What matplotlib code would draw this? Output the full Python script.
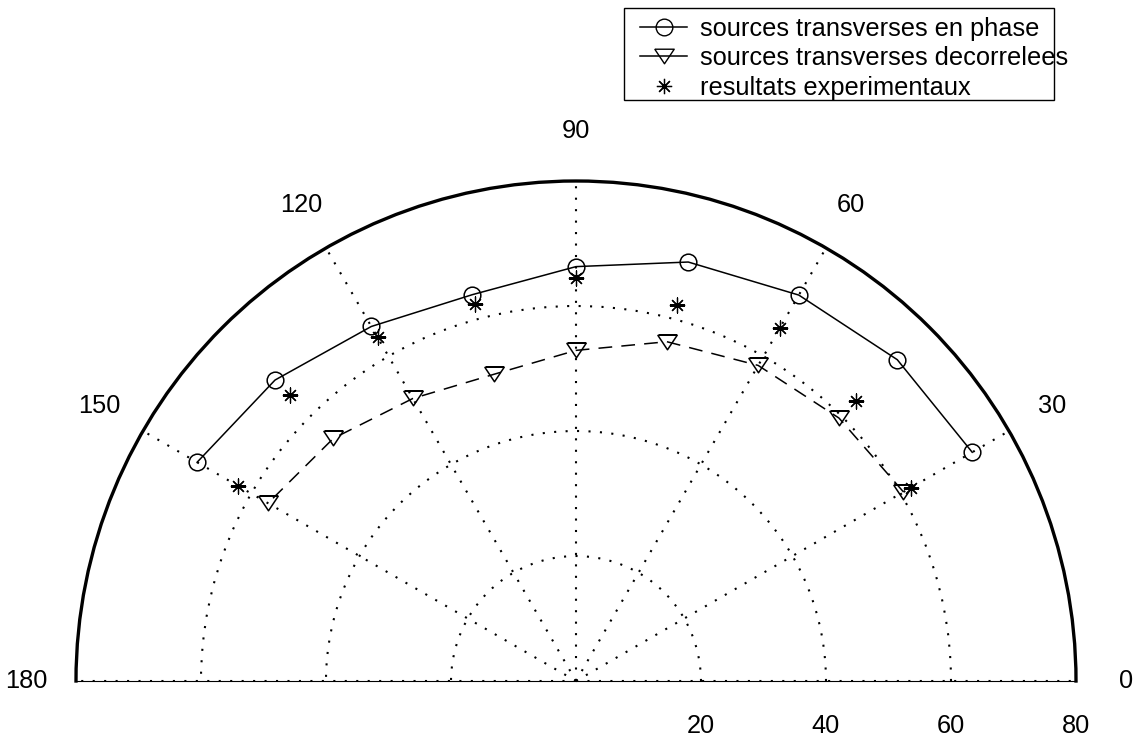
import numpy as np
import matplotlib
matplotlib.use("Agg")
import matplotlib.pyplot as plt
from matplotlib.lines import Line2D
from matplotlib.patches import Rectangle

# ---- data ----
angles_deg = [30, 45, 60, 75, 90, 105, 120, 135, 150]
en_phase = [73.2, 72.7, 71.3, 69.4, 66.3, 64.0, 65.5, 68.1, 70.0]
decorrelees = [60.5, 59.5, 58.3, 56.2, 52.9, 50.8, 52.2, 54.9, 56.9]
experimentaux = [61.9, 63.3, 65.2, 62.3, 64.4, 62.4, 63.5, 64.7, 62.5]
theta_ticks = [0, 30, 60, 90, 120, 150, 180]
r_ticks = [20, 40, 60, 80]
labels = ["sources transverses en phase", "sources transverses decorrelees", "resultats experimentaux"]

plt.rcParams['font.family'] = ['Liberation Sans', 'DejaVu Sans']
FS = 18.3

W, H = 1136, 742
fig = plt.figure(figsize=(W / 100, H / 100), dpi=100)
# polar half-disk: center (576, 681) px, radius 500 px; wedge is centered in a square box
R = 500
cx, cy = 576, 681
box_top = (cy - R / 2) - R
ax = fig.add_axes([(cx - R) / W, (H - (box_top + 2 * R)) / H, 2 * R / W, 2 * R / H], projection='polar')
ax.set_thetamin(0)
ax.set_thetamax(180)
ax.set_rlim(0, 80)

th = np.deg2rad(angles_deg)
star = (8, 2, 0)
tri = [(-1, 0.75), (1, 0.75), (0, -0.75), (-1, 0.75)]
ax.plot(th, en_phase, '-', color='k', lw=1.1, marker='o', mfc='none', mec='k', ms=12, mew=1.1)
ax.plot(th, decorrelees, color='k', lw=1.1, ls=(0, (9, 6)), marker=tri, mfc='none', mec='k', ms=14, mew=1.1)
ax.plot(th, experimentaux, ls='none', marker=star, color='k', ms=11, mew=0.9)

ax.set_xticks(np.deg2rad(theta_ticks))
ax.set_xticklabels([])
ax.set_yticks(r_ticks[:-1])
ax.set_yticklabels([])
ax.tick_params(length=0)
ax.grid(True, color='k', linestyle=(0, (1, 4.5)), linewidth=1.5)
for s in ['start', 'end', 'inner']:
    if s in ax.spines:
        ax.spines[s].set_visible(False)
ax.spines['polar'].set_linewidth(2.4)

for a in theta_ticks:
    ax.annotate(str(a), xy=(np.deg2rad(a), 88), ha='center', va='center',
                fontsize=FS, annotation_clip=False)
for r in r_ticks:
    ax.annotate(str(r), xy=(0, r), xytext=(0, -45), textcoords='offset pixels',
                ha='center', va='center', fontsize=FS, annotation_clip=False)

handles = [
    Line2D([], [], color='k', lw=1.1, marker='o', mfc='none', mec='k', ms=12),
    Line2D([], [], color='k', lw=1.1, marker=tri, mfc='none', mec='k', ms=14),
    Line2D([], [], ls='none', color='k', marker=star, ms=11, mew=0.9),
]
leg = fig.legend(handles, labels, loc='upper left', bbox_to_anchor=(640 / W, 1 - 17 / H),
                 fontsize=FS, frameon=False, handlelength=1.85, handletextpad=0.5,
                 labelspacing=0.21, borderpad=0, borderaxespad=0)
fig.add_artist(Rectangle((624 / W, 1 - 100 / H), (1054 - 624) / W, 92 / H,
                         transform=fig.transFigure, fill=False, edgecolor='k', lw=1.0))

fig.savefig("out.png", dpi=100)
